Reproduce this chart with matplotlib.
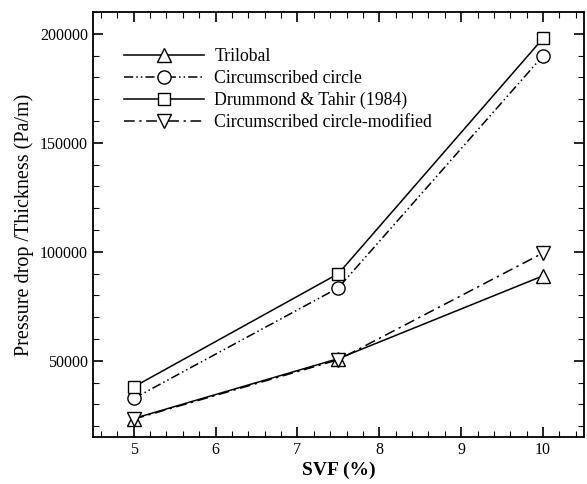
import matplotlib.pyplot as plt
from matplotlib.ticker import MultipleLocator

plt.rcParams['font.family'] = ['Liberation Serif', 'DejaVu Serif']

svf = [5, 7.5, 10]
trilobal = [23500, 51000, 89000]
circ = [32700, 83500, 190000]
drummond = [38000, 90000, 198000]
circ_mod = [23200, 50500, 99500]

fig = plt.figure(figsize=(5.87, 4.84), dpi=100)
ax = fig.add_axes([0.158, 0.097, 0.837, 0.878])

st = dict(markerfacecolor='white', markeredgecolor='black',
          markeredgewidth=1.0, color='black', linewidth=1.1)
ax.plot(svf, trilobal, '-', marker='^', markersize=9.5, label='Trilobal', **st)
ax.plot(svf, circ, marker='o', markersize=9.5, linestyle=(0, (6, 2, 1, 2, 1, 2)),
        label='Circumscribed circle', **st)
ax.plot(svf, drummond, '-', marker='s', markersize=8, label='Drummond & Tahir (1984)', **st)
ax.plot(svf, circ_mod, marker='v', markersize=9.5, linestyle=(0, (7, 3, 1.5, 3)),
        label='Circumscribed circle-modified', **st)

ax.set_xlim(4.5, 10.5)
ax.set_ylim(15000, 210000)
ax.xaxis.set_major_locator(MultipleLocator(1))
ax.xaxis.set_minor_locator(MultipleLocator(0.2))
ax.yaxis.set_major_locator(MultipleLocator(50000))
ax.yaxis.set_minor_locator(MultipleLocator(10000))
ax.tick_params(which='both', direction='in', top=True, right=True, labelsize=11.5)
ax.tick_params(which='major', length=7, width=1.2)
ax.tick_params(which='minor', length=4, width=0.8)
for s in ax.spines.values():
    s.set_linewidth(1.3)

ax.set_xlabel('SVF (%)', fontsize=14, fontweight='bold', labelpad=3)
ax.set_ylabel('Pressure drop /Thickness (Pa/m)', fontsize=14.5)

ax.legend(loc='upper left', bbox_to_anchor=(0.032, 0.952), frameon=False,
          fontsize=12.8, handlelength=4.5, labelspacing=0.27, handletextpad=0.55)

fig.savefig('out.png', dpi=100)
